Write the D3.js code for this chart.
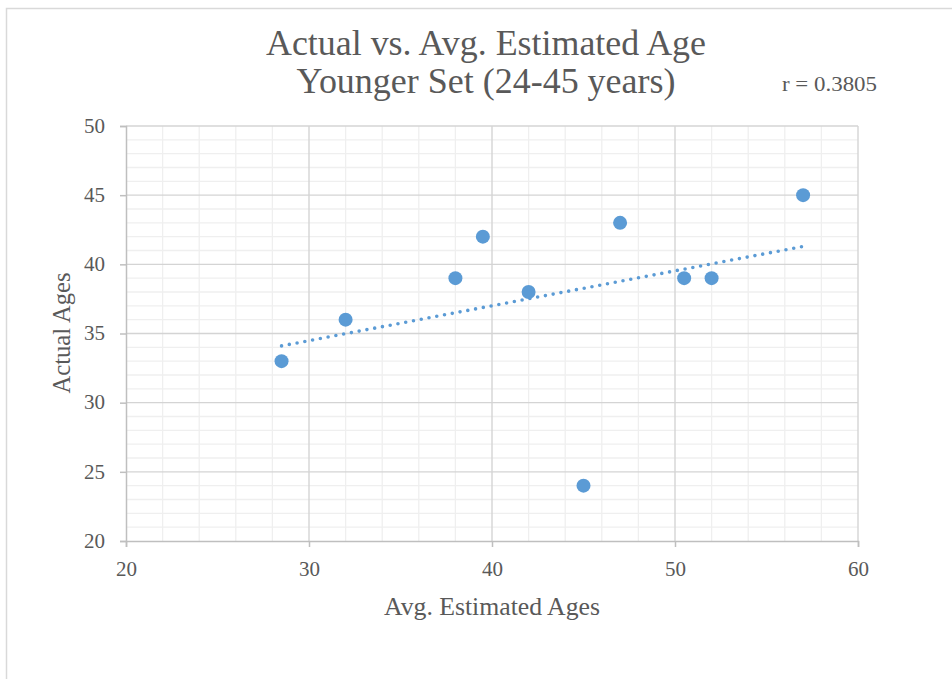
<!DOCTYPE html>
<html>
<head>
<meta charset="utf-8">
<script src="https://cdn.jsdelivr.net/npm/d3@7"></script>
<style>
  html, body { margin: 0; padding: 0; background: #fff; }
  svg { display: block; }
</style>
</head>
<body>
<svg id="chart" width="952" height="679"></svg>
<script>
// Avg. estimated age (x) vs. actual age (y) for each person in the younger set
const estimatedAges = [28.5, 32, 38, 39.5, 42, 45, 47, 50.5, 52, 57];
const actualAges    = [33, 36, 39, 42, 38, 24, 43, 39, 39, 45];

const xTicks = [20, 30, 40, 50, 60];
const yTicks = [20, 25, 30, 35, 40, 45, 50];
const xMinorStep = 2;
const yMinorStep = 1;

const titleLines = ["Actual vs. Avg. Estimated Age", "Younger Set (24-45 years)"];
const rLabel = "r = 0.3805";
const xTitle = "Avg. Estimated Ages";
const yTitle = "Actual Ages";

const SERIF = '"Liberation Serif", "DejaVu Serif", serif';
const TEXT_COLOR = "#595959";

const svg = d3.select("#chart");
const plot = { left: 126, right: 858, top: 126, bottom: 541 };

const x = d3.scaleLinear().domain([20, 60]).range([plot.left, plot.right]);
const y = d3.scaleLinear().domain([20, 50]).range([plot.bottom, plot.top]);

// chart frame
svg.append("rect")
  .attr("x", 6.5).attr("y", 8.5)
  .attr("width", 1000).attr("height", 1000)
  .attr("fill", "#fff")
  .attr("stroke", "#d9d9d9").attr("stroke-width", 1.5);

// minor gridlines
const g = svg.append("g");
g.selectAll(".vminor")
  .data(d3.range(20, 60 + 1e-9, xMinorStep).filter(v => !xTicks.includes(v)))
  .join("line")
  .attr("x1", d => x(d)).attr("x2", d => x(d))
  .attr("y1", plot.top).attr("y2", plot.bottom)
  .attr("stroke", "#efefef").attr("stroke-width", 1.3);
g.selectAll(".hminor")
  .data(d3.range(20, 50 + 1e-9, yMinorStep).filter(v => !yTicks.includes(v)))
  .join("line")
  .attr("x1", plot.left).attr("x2", plot.right)
  .attr("y1", d => y(d)).attr("y2", d => y(d))
  .attr("stroke", "#efefef").attr("stroke-width", 1.3);

// major gridlines
g.selectAll(".vmajor")
  .data(xTicks.slice(1))
  .join("line")
  .attr("x1", d => x(d)).attr("x2", d => x(d))
  .attr("y1", plot.top).attr("y2", plot.bottom)
  .attr("stroke", "#d4d4d4").attr("stroke-width", 1.4);
g.selectAll(".hmajor")
  .data(yTicks.slice(1))
  .join("line")
  .attr("x1", plot.left).attr("x2", plot.right)
  .attr("y1", d => y(d)).attr("y2", d => y(d))
  .attr("stroke", "#d4d4d4").attr("stroke-width", 1.4);

// axes
const xAxis = d3.axisBottom(x).tickValues(xTicks).tickSize(6).tickPadding(10);
const yAxis = d3.axisLeft(y).tickValues(yTicks).tickSize(6).tickPadding(15);

const gx = svg.append("g").attr("transform", `translate(0,${plot.bottom})`).call(xAxis);
const gy = svg.append("g").attr("transform", `translate(${plot.left},0)`).call(yAxis);

[gx, gy].forEach(ax => {
  ax.attr("font-family", null).attr("font-size", null);
  ax.select(".domain").attr("stroke", "#bfbfbf").attr("stroke-width", 1.5);
  ax.selectAll(".tick line").attr("stroke", "#bfbfbf").attr("stroke-width", 1.5);
  ax.selectAll(".tick text")
    .attr("fill", TEXT_COLOR)
    .style("font-family", SERIF)
    .style("font-size", "21px");
});
gx.selectAll(".tick text").attr("dy", "0.9em");
gy.selectAll(".tick text").attr("dy", "0.3em");

// least-squares trendline over the data range
const n = estimatedAges.length;
const mx = d3.mean(estimatedAges), my = d3.mean(actualAges);
let sxy = 0, sxx = 0;
for (let i = 0; i < n; i++) {
  sxy += (estimatedAges[i] - mx) * (actualAges[i] - my);
  sxx += (estimatedAges[i] - mx) ** 2;
}
const slope = sxy / sxx;
const intercept = my - slope * mx;
const xExtent = d3.extent(estimatedAges);

svg.append("line")
  .attr("x1", x(xExtent[0])).attr("y1", y(intercept + slope * xExtent[0]))
  .attr("x2", x(xExtent[1])).attr("y2", y(intercept + slope * xExtent[1]))
  .attr("stroke", "#5b9bd5").attr("stroke-width", 3.6)
  .attr("stroke-linecap", "round")
  .attr("stroke-dasharray", "0 7.9");

// points
svg.append("g").selectAll("circle")
  .data(estimatedAges.map((v, i) => [v, actualAges[i]]))
  .join("circle")
  .attr("cx", d => x(d[0])).attr("cy", d => y(d[1]))
  .attr("r", 7)
  .attr("fill", "#5b9bd5");

// text helper
function label(txt, xPos, yPos, size, width, anchor, transform) {
  const t = svg.append("text")
    .attr("text-anchor", anchor)
    .attr("fill", TEXT_COLOR)
    .attr("textLength", width).attr("lengthAdjust", "spacingAndGlyphs")
    .style("font-family", SERIF)
    .style("font-size", size + "px")
    .text(txt);
  if (transform) t.attr("transform", transform);
  else t.attr("x", xPos).attr("y", yPos);
  return t;
}

label(titleLines[0], 486, 55, 35, 440, "middle");
label(titleLines[1], 486, 93, 35, 379, "middle");
label(rLabel, 782, 91, 22, 95, "start");
label(xTitle, 492, 615, 25, 216, "middle");
label(yTitle, 0, 0, 25, 121, "middle", "translate(70,333) rotate(-90)");
</script>
</body>
</html>
